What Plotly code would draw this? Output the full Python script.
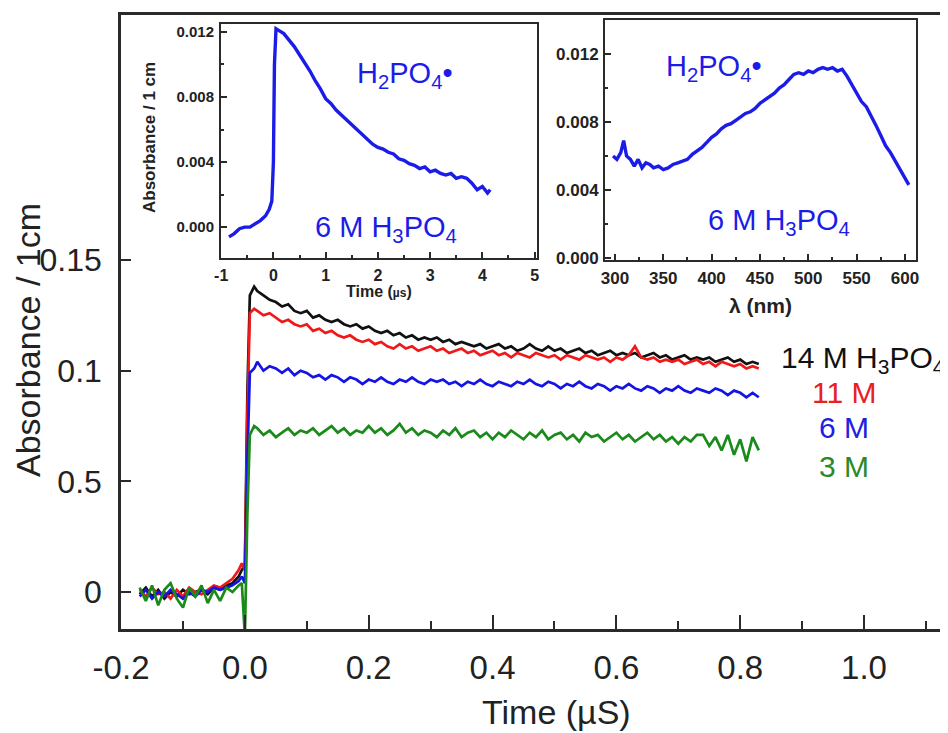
import plotly.graph_objects as go

W, H = 948, 733
OFF = 8  # the page body adds an 8 px margin around the figure; positions below are page pixels
def px(x): return (x - OFF) / W
def py(y): return (H - (y - OFF)) / H

# ---------------- main transient data ----------------
t_main = [-0.17,-0.16,-0.15,-0.14,-0.13,-0.12,-0.11,-0.10,-0.09,-0.08,-0.07,-0.06,-0.05,-0.04,-0.03,-0.02,-0.01,
          -0.005,0.0,0.004,0.008,0.015,
          0.02,0.03,0.04,0.05,0.06,0.07,0.08,0.09,0.10,0.11,0.12,0.13,0.14,0.15,0.16,0.17,0.18,0.19,0.20,
          0.21,0.22,0.23,0.24,0.25,0.26,0.27,0.28,0.29,0.30,0.31,0.32,0.33,0.34,0.35,0.36,0.37,0.38,0.39,0.40,
          0.41,0.42,0.43,0.44,0.45,0.46,0.47,0.48,0.49,0.50,0.51,0.52,0.53,0.54,0.55,0.56,0.57,0.58,0.59,0.60,
          0.61,0.62,0.63,0.64,0.65,0.66,0.67,0.68,0.69,0.70,0.71,0.72,0.73,0.74,0.75,0.76,0.77,0.78,0.79,0.80,
          0.81,0.82,0.83]

a_14M = [-0.001,0.002,-0.002,0.001,-0.003,0.000,-0.002,0.001,-0.001,0.000,0.001,-0.001,0.002,0.001,0.003,0.004,0.007,
         0.010,0.012,0.090,0.134,0.138,
         0.136,0.134,0.132,0.131,0.129,0.130,0.127,0.126,0.127,0.124,0.125,0.123,0.122,0.123,0.121,0.120,0.121,0.119,0.120,
         0.118,0.117,0.118,0.116,0.117,0.115,0.116,0.114,0.115,0.114,0.115,0.113,0.114,0.112,0.113,0.112,0.111,0.112,0.110,0.111,
         0.112,0.110,0.111,0.109,0.110,0.112,0.110,0.109,0.111,0.109,0.110,0.108,0.109,0.110,0.108,0.109,0.107,0.108,0.109,0.107,
         0.108,0.107,0.108,0.106,0.107,0.108,0.106,0.107,0.105,0.106,0.107,0.105,0.106,0.105,0.106,0.104,0.105,0.106,0.104,0.105,
         0.103,0.104,0.103]

a_11M = [0.001,-0.002,0.002,-0.001,0.000,-0.003,0.001,-0.002,0.002,0.000,-0.001,0.001,0.003,0.002,0.004,0.006,0.010,
         0.013,0.010,0.080,0.126,0.128,
         0.127,0.125,0.126,0.124,0.122,0.123,0.121,0.120,0.121,0.118,0.119,0.117,0.118,0.116,0.115,0.116,0.114,0.113,0.114,
         0.112,0.113,0.111,0.110,0.112,0.110,0.111,0.109,0.110,0.111,0.109,0.110,0.108,0.109,0.110,0.108,0.109,0.107,0.108,0.109,
         0.107,0.108,0.106,0.108,0.107,0.106,0.108,0.107,0.106,0.107,0.105,0.107,0.106,0.105,0.107,0.106,0.105,0.106,0.104,0.106,
         0.105,0.107,0.111,0.106,0.105,0.106,0.104,0.105,0.104,0.105,0.103,0.104,0.105,0.103,0.104,0.102,0.104,0.103,0.102,0.103,
         0.101,0.102,0.101]

a_6M = [-0.002,0.001,-0.003,0.000,-0.002,0.001,-0.001,-0.003,0.000,-0.002,0.001,0.000,0.002,0.001,0.002,0.003,0.005,
        0.007,0.004,0.060,0.099,0.101,
        0.104,0.100,0.102,0.101,0.099,0.101,0.098,0.100,0.099,0.097,0.098,0.096,0.098,0.097,0.095,0.097,0.096,0.094,0.096,
        0.095,0.097,0.095,0.094,0.096,0.095,0.097,0.095,0.094,0.096,0.095,0.096,0.094,0.095,0.093,0.095,0.094,0.096,0.094,0.093,
        0.095,0.094,0.093,0.095,0.094,0.096,0.094,0.093,0.095,0.094,0.092,0.094,0.093,0.095,0.093,0.092,0.094,0.093,0.091,0.093,
        0.092,0.094,0.092,0.091,0.093,0.092,0.090,0.092,0.091,0.093,0.091,0.090,0.092,0.091,0.090,0.092,0.091,0.089,0.091,0.090,
        0.088,0.090,0.088]

a_3M = [0.002,-0.004,0.003,-0.006,0.001,0.004,-0.003,-0.007,0.002,-0.002,0.003,-0.005,0.001,-0.004,0.002,0.000,0.003,
        0.004,-0.020,0.035,0.071,0.075,
        0.074,0.071,0.073,0.070,0.072,0.074,0.071,0.073,0.072,0.074,0.071,0.073,0.075,0.072,0.074,0.071,0.073,0.072,0.075,
        0.072,0.074,0.071,0.073,0.076,0.072,0.074,0.071,0.073,0.072,0.070,0.073,0.071,0.074,0.070,0.072,0.073,0.070,0.072,0.069,
        0.072,0.070,0.073,0.071,0.069,0.072,0.070,0.073,0.069,0.071,0.072,0.069,0.071,0.068,0.072,0.070,0.071,0.068,0.070,0.072,
        0.069,0.071,0.068,0.070,0.072,0.069,0.071,0.068,0.070,0.067,0.070,0.068,0.071,0.071,0.066,0.070,0.064,0.071,0.062,0.069,
        0.059,0.070,0.064]

series_names = ["14 M", "11 M", "6 M", "3 M"]
series_colors = ["#111111", "#f01818", "#1414e6", "#1a8a1a"]

# ---------------- inset 1: kinetic trace ----------------
t_inset = [-0.85,-0.75,-0.65,-0.55,-0.45,-0.35,-0.25,-0.15,-0.08,-0.03,0.0,0.02,0.05,0.1,0.2,0.3,0.4,0.5,0.6,0.7,0.8,
           0.9,1.0,1.1,1.2,1.3,1.4,1.5,1.6,1.7,1.8,1.9,2.0,2.1,2.2,2.3,2.4,2.5,2.6,2.7,2.8,2.9,3.0,3.1,3.2,3.3,3.4,
           3.5,3.6,3.7,3.8,3.9,4.0,4.1,4.15]
a_inset = [-0.0006,-0.0004,-0.0001,0.0000,0.0000,0.0002,0.0004,0.0007,0.0011,0.0016,0.0040,0.0100,0.0122,0.0121,
           0.0119,0.0115,0.0111,0.0106,0.0101,0.0096,0.0090,0.0085,0.0079,0.0076,0.0072,0.0069,0.0066,0.0063,0.0060,
           0.0057,0.0054,0.0051,0.0049,0.0048,0.0046,0.0045,0.0042,0.0041,0.0039,0.0038,0.0036,0.0037,0.0034,0.0035,
           0.0033,0.0032,0.0033,0.0030,0.0031,0.0030,0.0027,0.0023,0.0025,0.0021,0.0023]

# ---------------- inset 2: spectrum ----------------
wl = [298,302,306,309,312,316,320,324,328,332,336,340,345,350,355,360,365,370,375,380,385,390,395,400,405,410,415,
      420,425,430,435,440,445,450,455,460,465,470,475,480,485,490,495,500,505,510,515,520,525,530,535,540,545,550,
      555,560,565,570,575,580,585,590,595,600,604]
a_spec = [0.0060,0.0058,0.0062,0.0069,0.0060,0.0058,0.0054,0.0058,0.0053,0.0056,0.0055,0.0053,0.0054,0.0052,0.0053,
          0.0055,0.0056,0.0057,0.0058,0.0061,0.0063,0.0065,0.0068,0.0071,0.0073,0.0076,0.0078,0.0079,0.0081,0.0083,
          0.0085,0.0086,0.0088,0.0091,0.0093,0.0095,0.0097,0.0100,0.0102,0.0105,0.0108,0.0109,0.0108,0.0110,0.0109,
          0.0111,0.0112,0.0111,0.0112,0.0110,0.0111,0.0107,0.0102,0.0097,0.0092,0.0089,0.0084,0.0078,0.0072,0.0066,
          0.0062,0.0057,0.0052,0.0047,0.0043]

# tick labels
main_xticks = [-0.2, 0.0, 0.2, 0.4, 0.6, 0.8, 1.0]
main_xticktext = ["-0.2", "0.0", "0.2", "0.4", "0.6", "0.8", "1.0"]
main_xminor = [-0.1, 0.1, 0.3, 0.5, 0.7, 0.9, 1.1]
main_yticks = [0, 0.05, 0.1, 0.15]
main_yticktext = ["0", "0.5", "0.1", "0.15"]
in1_xticks = [-1, 0, 1, 2, 3, 4, 5]
in1_xticktext = ["-1", "0", "1", "2", "3", "4", "5"]
in1_xminor = [-0.5, 0.5, 1.5, 2.5, 3.5, 4.5]
abs_ticks = [0, 0.004, 0.008, 0.012]
abs_ticktext = ["0.000", "0.004", "0.008", "0.012"]
abs_minor = [0.002, 0.006, 0.010]
in2_xticks = [300, 350, 400, 450, 500, 550, 600]
in2_xminor = [325, 375, 425, 475, 525, 575]

FONT = "Liberation Sans, Arial, Helvetica, sans-serif"
AX = "#2a2a2a"
INSET_BLUE = "#1c1ce8"

fig = go.Figure()
for yv, col in zip([a_14M, a_11M, a_6M, a_3M], series_colors):
    fig.add_trace(go.Scatter(x=t_main, y=yv, mode="lines", line=dict(color=col, width=2.7),
                             xaxis="x", yaxis="y", showlegend=False))
fig.add_trace(go.Scatter(x=t_inset, y=a_inset, mode="lines", line=dict(color=INSET_BLUE, width=3.4),
                         xaxis="x2", yaxis="y2", showlegend=False))
fig.add_trace(go.Scatter(x=wl, y=a_spec, mode="lines", line=dict(color=INSET_BLUE, width=3.4),
                         xaxis="x3", yaxis="y3", showlegend=False))

def inset_axis(**kw):
    d = dict(showline=True, linewidth=2, linecolor=AX, mirror=True, ticks="inside", tickwidth=1.5,
             tickcolor=AX, showgrid=False, zeroline=False, tickmode="array", automargin=False)
    d.update(kw)
    return d

fig.update_layout(
    width=W, height=H, margin=dict(l=0, r=0, t=0, b=0, autoexpand=False),
    paper_bgcolor="white", plot_bgcolor="white",
    font=dict(family=FONT, color="#222222"),
    xaxis=dict(domain=[px(121), px(948)], range=[-0.2001, 1.1356], anchor="y", automargin=False,
               showline=True, linewidth=2.5, linecolor=AX, mirror=True,
               ticks="inside", ticklen=14, tickwidth=2, tickcolor=AX,
               tickmode="array", tickvals=main_xticks, ticktext=main_xticktext,
               minor=dict(tickmode="array", tickvals=main_xminor, ticks="inside", ticklen=8, tickwidth=2, tickcolor=AX),
               tickfont=dict(size=33, family=FONT, color="#222"), ticklabelstandoff=8,
               showgrid=False, zeroline=False),
    yaxis=dict(domain=[py(629), py(15)], range=[-0.0167, 0.2607], anchor="x", automargin=False,
               showline=True, linewidth=2.5, linecolor=AX, mirror=False,
               ticks="inside", ticklen=10, tickwidth=2, tickcolor=AX,
               tickmode="array", tickvals=main_yticks, ticktext=main_yticktext,
               tickfont=dict(size=32, family=FONT, color="#222"), ticklabelstandoff=10,
               showgrid=False, zeroline=False),
    xaxis2=inset_axis(domain=[px(221), px(537)], range=[-1.003, 5.046], anchor="y2",
                      ticklen=6, tickvals=in1_xticks, ticktext=in1_xticktext,
                      minor=dict(tickmode="array", tickvals=in1_xminor, ticks="inside", ticklen=3, tickcolor=AX),
                      tickfont=dict(size=16, family=FONT, color="#222", weight="bold"), ticklabelstandoff=2),
    yaxis2=inset_axis(domain=[py(258), py(24)], range=[-0.0019, 0.01249], anchor="x2",
                      ticklen=6, tickvals=abs_ticks, ticktext=abs_ticktext,
                      minor=dict(tickmode="array", tickvals=abs_minor, ticks="inside", ticklen=3, tickcolor=AX),
                      tickfont=dict(size=15, family=FONT, color="#222", weight="bold"), ticklabelstandoff=2),
    xaxis3=inset_axis(domain=[px(605), px(916)], range=[289.7, 611.4], anchor="y3",
                      ticklen=6, tickvals=in2_xticks, ticktext=[str(v) for v in in2_xticks],
                      minor=dict(tickmode="array", tickvals=in2_xminor, ticks="inside", ticklen=3, tickcolor=AX),
                      tickfont=dict(size=17, family=FONT, color="#222", weight="bold"), ticklabelstandoff=2),
    yaxis3=inset_axis(domain=[py(260), py(20)], range=[-0.00012, 0.014], anchor="x3",
                      ticklen=6, tickvals=abs_ticks, ticktext=abs_ticktext,
                      minor=dict(tickmode="array", tickvals=abs_minor, ticks="inside", ticklen=3, tickcolor=AX),
                      tickfont=dict(size=17, family=FONT, color="#222", weight="bold"), ticklabelstandoff=1),
)

def ann(text, x, y, size, color="#222", xanchor="center", yanchor="middle", angle=0, bold=False):
    fig.add_annotation(text=text, x=px(x), y=py(y), xref="paper", yref="paper", showarrow=False,
                       xanchor=xanchor, yanchor=yanchor, textangle=angle,
                       font=dict(size=size, color=color, family=FONT, weight="bold" if bold else "normal"))

# main axis titles
ann("Absorbance / 1cm", 28, 340, 34, angle=-90)
ann("Time (µS)", 556, 712, 34)
# inset axis titles
ann("Absorbance / 1 cm", 149, 138, 17, angle=-90, bold=True)
ann("Time (<span style='font-size:12px'>µs</span>)", 379, 291, 16, bold=True)
ann("λ (nm)", 760, 305, 21, bold=True)
# inset annotations
ann("H<sub>2</sub>PO<sub>4</sub>•", 405, 75, 29, color=INSET_BLUE)
ann("6 M H<sub>3</sub>PO<sub>4</sub>", 386, 229, 29, color=INSET_BLUE)
ann("H<sub>2</sub>PO<sub>4</sub>•", 714, 68, 29, color=INSET_BLUE)
ann("6 M H<sub>3</sub>PO<sub>4</sub>", 779, 222, 29, color=INSET_BLUE)
# series labels
ann("14 M H<sub>3</sub>PO<sub>4</sub>", 779, 359, 30, color="#111111", xanchor="left")
ann("11 M", 810, 392, 30, color="#e82020", xanchor="left")
ann("6 M", 817, 427, 30, color="#2020e0", xanchor="left")
ann("3 M", 817, 466, 30, color="#2a8a2a", xanchor="left")

fig.write_html("out.html")
